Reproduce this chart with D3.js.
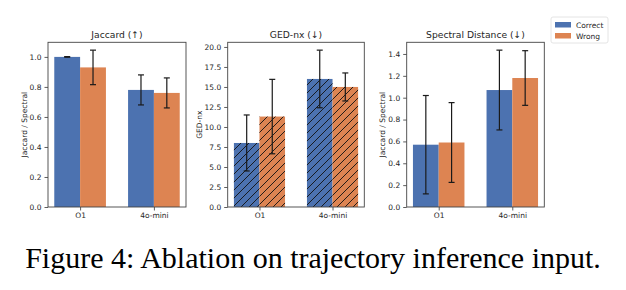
<!DOCTYPE html>
<html>
<head>
<meta charset="utf-8">
<script src="https://cdn.jsdelivr.net/npm/d3@7"></script>
<style>
  body { margin: 0; background: #fff; }
  svg { display: block; }
  text { font-family: "DejaVu Sans", sans-serif; fill: #262626; }
  .caption { font-family: "Liberation Serif", "Times New Roman", serif; fill: #000; }
</style>
</head>
<body>
<div id="chart"></div>
<script>
/////// DATA ////////
var models = ["O1", "4o-mini"];
var groups = ["Correct", "Wrong"];
var colors = ["#4c72b0", "#dd8452"];

// Jaccard (higher is better)
var jaccardCorrect    = [1.00, 0.78];
var jaccardCorrectErr = [0.002, 0.10];
var jaccardWrong      = [0.93, 0.76];
var jaccardWrongErr   = [0.115, 0.10];

// GED-nx (lower is better)
var gedCorrect    = [8.0, 16.0];
var gedCorrectErr = [3.5, 3.6];
var gedWrong      = [11.3, 15.0];
var gedWrongErr   = [4.65, 1.75];

// Spectral distance (lower is better)
var specCorrect    = [0.57, 1.07];
var specCorrectErr = [0.45, 0.365];
var specWrong      = [0.59, 1.18];
var specWrongErr   = [0.365, 0.25];

var jaccardTicks = [0, 0.2, 0.4, 0.6, 0.8, 1.0];
var gedTicks     = [0, 2.5, 5, 7.5, 10, 12.5, 15, 17.5, 20];
var specTicks    = [0, 0.2, 0.4, 0.6, 0.8, 1.0, 1.2, 1.4];

var w = 626;
var h = 290;

var panels = [
    {title: "Jaccard (\u2191)", ylabel: "Jaccard / Spectral", left: 48, width: 138, labelOff: 24,
     series: [[jaccardCorrect, jaccardCorrectErr], [jaccardWrong, jaccardWrongErr]],
     ticks: jaccardTicks, hatch: false},
    {title: "GED-nx (\u2193)", ylabel: "GED-nx", left: 227.7, width: 136.6, labelOff: 28.5,
     series: [[gedCorrect, gedCorrectErr], [gedWrong, gedWrongErr]],
     ticks: gedTicks, hatch: true},
    {title: "Spectral Distance (\u2193)", ylabel: "Jaccard / Spectral", left: 406.7, width: 137.6, labelOff: 24,
     series: [[specCorrect, specCorrectErr], [specWrong, specWrongErr]],
     ticks: specTicks, hatch: false}
];

var plotTop = 42.3, plotBottom = 207;
var barW = 0.35;

var svg = d3.select("#chart")
            .append("svg")
            .attr("width", w)
            .attr("height", h);

// hatch pattern "//"
svg.append("defs")
    .append("pattern")
    .attr("id", "hatch")
    .attr("patternUnits", "userSpaceOnUse")
    .attr("width", 8)
    .attr("height", 8)
    .append("path")
    .attr("d", "M-2,2 L2,-2 M0,8 L8,0 M6,10 L10,6")
    .attr("stroke", "#111")
    .attr("stroke-width", 0.9);

panels.forEach(function(p) {
    var maxV = d3.max(p.series, function(s) {
        return d3.max(s[0], function(v, i) { return v + s[1][i]; });
    });

    var xscale = d3.scaleLinear()
                   .domain([-barW - 0.085, models.length - 1 + barW + 0.085])
                   .range([p.left, p.left + p.width]);

    var yscale = d3.scaleLinear()
                   .domain([0, maxV * 1.05])
                   .range([plotBottom, plotTop]);

    var g = svg.append("g");

    p.series.forEach(function(s, k) {
        var bars = g.append("g");
        models.forEach(function(m, i) {
            var x0 = xscale(i + (k - 1) * barW);
            var x1 = xscale(i + k * barW);
            bars.append("rect")
                .attr("x", x0)
                .attr("y", yscale(s[0][i]))
                .attr("width", x1 - x0)
                .attr("height", yscale(0) - yscale(s[0][i]))
                .attr("fill", colors[k]);
            if (p.hatch) {
                bars.append("rect")
                    .attr("x", x0)
                    .attr("y", yscale(s[0][i]))
                    .attr("width", x1 - x0)
                    .attr("height", yscale(0) - yscale(s[0][i]))
                    .attr("fill", "url(#hatch)");
            }
        });
    });

    // error bars
    p.series.forEach(function(s, k) {
        models.forEach(function(m, i) {
            var cx = xscale(i + (k - 0.5) * barW);
            var lo = yscale(s[0][i] - s[1][i]);
            var hi = yscale(s[0][i] + s[1][i]);
            g.append("line")
                .attr("x1", cx).attr("x2", cx)
                .attr("y1", lo).attr("y2", hi)
                .attr("stroke", "#1a1a1a").attr("stroke-width", 1.2);
            [lo, hi].forEach(function(y) {
                g.append("line")
                    .attr("x1", cx - 3).attr("x2", cx + 3)
                    .attr("y1", y).attr("y2", y)
                    .attr("stroke", "#1a1a1a").attr("stroke-width", 1.2);
            });
        });
    });

    var yaxis = d3.axisLeft(yscale)
                  .tickValues(p.ticks)
                  .tickFormat(d3.format(".1f"))
                  .tickSize(3.5)
                  .tickPadding(3);
    var xaxis = d3.axisBottom(xscale)
                  .tickValues(d3.range(models.length))
                  .tickFormat(function(d) { return models[d]; })
                  .tickSize(3.5)
                  .tickPadding(2.5);

    var ya = g.append("g")
        .attr("transform", "translate(" + p.left + ",0)")
        .call(yaxis);
    var xa = g.append("g")
        .attr("transform", "translate(0," + plotBottom + ")")
        .call(xaxis);

    [ya, xa].forEach(function(a) {
        a.select(".domain").remove();
        a.selectAll(".tick line").attr("stroke", "#333").attr("stroke-width", 0.8);
        a.selectAll(".tick text")
            .attr("fill", "#262626")
            .style("font-family", "DejaVu Sans")
            .style("font-size", "7.5px");
    });

    // frame
    g.append("rect")
        .attr("x", p.left)
        .attr("y", plotTop)
        .attr("width", p.width)
        .attr("height", plotBottom - plotTop)
        .attr("fill", "none")
        .attr("stroke", "#444")
        .attr("stroke-width", 0.9);

    g.append("text")
        .attr("x", p.left + p.width / 2)
        .attr("y", 38)
        .attr("text-anchor", "middle")
        .style("font-size", "9.2px")
        .text(p.title);

    g.append("text")
        .attr("transform", "translate(" + (p.left - p.labelOff) + "," + ((plotTop + plotBottom) / 2) + ") rotate(-90)")
        .attr("text-anchor", "middle")
        .attr("dy", "0.35em")
        .style("font-size", "7.5px")
        .text(p.ylabel);
});

////// LEGEND //////
var legend = svg.append("g").attr("transform", "translate(551,17)");
legend.append("rect")
    .attr("width", 57)
    .attr("height", 26)
    .attr("rx", 2)
    .attr("fill", "#fff")
    .attr("stroke", "#ddd")
    .attr("stroke-width", 0.8);
groups.forEach(function(gname, k) {
    legend.append("rect")
        .attr("x", 4).attr("y", 5 + k * 11)
        .attr("width", 16).attr("height", 5.5)
        .attr("fill", colors[k]);
    legend.append("text")
        .attr("x", 25).attr("y", 8 + k * 11)
        .attr("dy", "0.35em")
        .style("font-size", "7.5px")
        .text(gname);
});

svg.append("text")
    .attr("class", "caption")
    .attr("x", 313)
    .attr("y", 268)
    .attr("text-anchor", "middle")
    .style("font-size", "30px")
    .text("Figure 4: Ablation on trajectory inference input.");
</script>
</body>
</html>
